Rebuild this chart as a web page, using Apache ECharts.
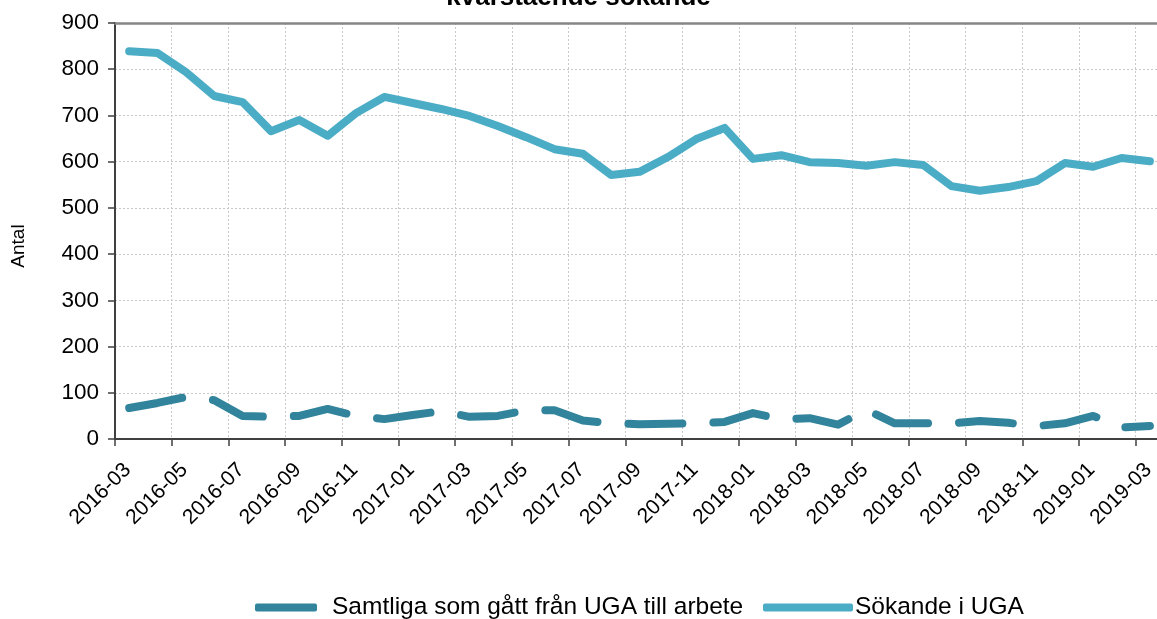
<!DOCTYPE html>
<html>
<head>
<meta charset="utf-8">
<title>Sökande i UGA</title>
<script src="https://cdn.jsdelivr.net/npm/echarts@6/dist/echarts.min.js"></script>
<style>
  html, body { margin: 0; padding: 0; background: #fff; }
  #chart { width: 1157px; height: 619px; }
</style>
</head>
<body>
<div id="chart"></div>
<script>
  // månader, en punkt per månad
  const months = [
    '2016-03', '2016-04', '2016-05', '2016-06', '2016-07', '2016-08', '2016-09', '2016-10',
    '2016-11', '2016-12', '2017-01', '2017-02', '2017-03', '2017-04', '2017-05', '2017-06',
    '2017-07', '2017-08', '2017-09', '2017-10', '2017-11', '2017-12', '2018-01', '2018-02',
    '2018-03', '2018-04', '2018-05', '2018-06', '2018-07', '2018-08', '2018-09', '2018-10',
    '2018-11', '2018-12', '2019-01', '2019-02', '2019-03'
  ]
  const tillArbete = [
    67, 78, 91, 84, 50, 48, 50, 65, 50, 43, 52, 60, 48, 50, 62, 62, 40, 34,
    32, 33, 34, 37, 56, 43, 45, 31, 63, 34, 34, 34, 39, 35, 28, 34, 50, 25, 28
  ]
  const sokandeUGA = [
    839, 835, 794, 742, 729, 666, 690, 656, 705, 740, 727, 714, 699, 677, 653, 627, 617, 571,
    578, 610, 649, 673, 606, 614, 599, 597, 591, 599, 593, 547, 537, 545, 558, 597, 589, 608, 601
  ]
  const yTicks = [0, 100, 200, 300, 400, 500, 600, 700, 800, 900]
  const seriesNames = ['Samtliga som gått från UGA till arbete', 'Sökande i UGA']

  const font = 'Liberation Sans, Arial, sans-serif'
  const xMax = 36.75

  // punkterna ligger mitt i månaden
  const toPoints = (vals) => vals.map((v, i) => [i + 0.5, v])

  const chart = echarts.init(document.getElementById('chart'))
  const option = {
    animation: false,
    title: {
      text: 'kvarstående sökande',
      left: 'center',
      top: -20,
      textStyle: { fontFamily: font, fontSize: 26, fontWeight: 'bold', color: '#000' }
    },
    legend: [
      {
        data: [seriesNames[0]],
        left: 255,
        top: 595,
        padding: 0,
        icon: 'roundRect',
        itemWidth: 62,
        itemHeight: 8,
        textStyle: { fontFamily: font, fontSize: 24.5, color: '#000', padding: [0, 0, 0, 10] }
      },
      {
        data: [seriesNames[1]],
        left: 763,
        top: 595,
        padding: 0,
        icon: 'roundRect',
        itemWidth: 90,
        itemHeight: 8,
        textStyle: { fontFamily: font, fontSize: 24.5, color: '#000', padding: [0, 0, 0, -3] }
      }
    ],
    grid: { left: 115, right: 0, top: 23, bottom: 180, containLabel: false, outerBoundsMode: 'none' },
    xAxis: [
      {
        type: 'value',
        min: 0,
        max: xMax,
        interval: 2,
        axisLine: { show: true, lineStyle: { color: '#404040', width: 2 } },
        axisTick: { show: true, length: 7, lineStyle: { color: '#404040', width: 1.5 } },
        axisLabel: {
          rotate: 45,
          margin: 15,
          align: 'right',
          verticalAlign: 'top',
          lineHeight: 36,
          showMaxLabel: false,
          fontFamily: font,
          fontSize: 21,
          color: '#000',
          formatter: (v) => (Number.isInteger(v) && v % 2 === 0 && months[v]) ? months[v] : ''
        },
        splitLine: { show: true, lineStyle: { color: '#c8c8c8', type: [2, 2], width: 1 } }
      },
      {
        // övre ramlinjen
        type: 'value',
        position: 'top',
        min: 0,
        max: xMax,
        axisLine: { show: true, lineStyle: { color: '#868686', width: 2.5 } },
        axisTick: { show: false },
        axisLabel: { show: false },
        splitLine: { show: false }
      }
    ],
    yAxis: {
      type: 'value',
      min: yTicks[0],
      max: yTicks[yTicks.length - 1],
      interval: 100,
      name: 'Antal',
      nameLocation: 'middle',
      nameRotate: 90,
      nameGap: 87,
      nameTextStyle: { fontFamily: font, fontSize: 19, color: '#000', padding: [0, 30, 0, 0] },
      axisLine: { show: true, lineStyle: { color: '#404040', width: 2 } },
      axisTick: { show: true, length: 7, lineStyle: { color: '#404040', width: 1.5 } },
      axisLabel: { margin: 16, fontFamily: font, fontSize: 22.5, color: '#000' },
      splitLine: { show: true, lineStyle: { color: '#c8c8c8', type: [2, 2], width: 1 } }
    },
    series: [
      {
        name: seriesNames[0],
        type: 'line',
        data: toPoints(tillArbete),
        showSymbol: false,
        symbol: 'none',
        color: '#31849B',
        lineStyle: { width: 8, type: [54, 31], cap: 'round', join: 'round', color: '#31849B' }
      },
      {
        name: seriesNames[1],
        type: 'line',
        data: toPoints(sokandeUGA),
        showSymbol: false,
        symbol: 'none',
        color: '#4BACC6',
        lineStyle: { width: 8, cap: 'round', join: 'round', color: '#4BACC6' }
      }
    ]
  }
  chart.setOption(option)
  window.addEventListener('resize', function () {
    chart.resize()
  })
</script>
</body>
</html>
